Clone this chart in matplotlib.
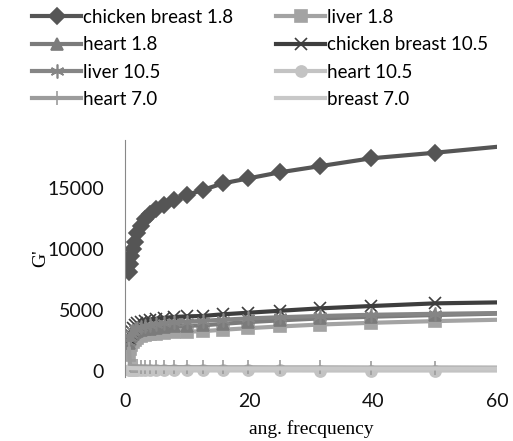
import matplotlib
matplotlib.use("Agg")
import matplotlib.pyplot as plt
from matplotlib.lines import Line2D

# angular frequency (rad/s)
freq = [0.628, 0.791, 0.996, 1.25, 1.58, 1.99, 2.50, 3.15, 3.97, 5.00, 6.28,
        7.91, 9.96, 12.5, 15.8, 19.9, 25.0, 31.5, 39.7, 50.0, 62.8]

cb_18 = [8100, 8800, 9400, 10000, 10600, 11300, 11900, 12450, 12900, 13300, 13650,
         14000, 14450, 14860, 15410, 15820, 16320, 16830, 17470, 17930, 18550]
liver_18 = [1300, 1800, 2100, 2350, 2550, 2700, 2820, 2920, 3000, 3060, 3120,
            3170, 3210, 3250, 3370, 3500, 3640, 3800, 3940, 4080, 4220]
heart_18 = [2300, 2600, 2850, 3000, 3150, 3250, 3330, 3400, 3470, 3540, 3600,
            3660, 3700, 3730, 3860, 4000, 4140, 4300, 4440, 4580, 4720]
cb_105 = [2600, 3000, 3300, 3550, 3750, 3900, 4020, 4120, 4200, 4280, 4350,
          4420, 4470, 4500, 4640, 4770, 4930, 5130, 5320, 5540, 5640]
liver_105 = [2400, 2800, 3050, 3250, 3400, 3520, 3620, 3700, 3780, 3850, 3920,
             3980, 4040, 4100, 4200, 4300, 4400, 4500, 4600, 4680, 4760]
heart_105 = [60, 50, 45, 40, 40, 35, 35, 30, 30, 30, 25,
             25, 25, 20, 20, 20, 20, 15, 15, 15, 15]
heart_70 = [1800, 450, 400, 380, 360, 350, 340, 330, 320, 310, 300,
            300, 290, 290, 280, 280, 270, 270, 260, 260, 250]
breast_70 = [230, 220, 215, 210, 210, 205, 205, 200, 200, 200, 200,
             195, 195, 195, 190, 190, 190, 190, 185, 185, 185]

series = [
    ("chicken breast 1.8", cb_18, "#555555", "D", 8),
    ("liver 1.8", liver_18, "#a3a3a3", "s", 8),
    ("heart 1.8", heart_18, "#7b7b7b", "^", 9),
    ("chicken breast 10.5", cb_105, "#3e3e3e", "x", 9),
    ("liver 10.5", liver_105, "#858585", (6, 2, 0), 10),
    ("heart 10.5", heart_105, "#c3c3c3", "o", 8),
    ("heart 7.0", heart_70, "#9c9c9c", "|", 10),
    ("breast 7.0", breast_70, "#c8c8c8", None, 0),
]

fig = plt.figure(figsize=(5.13, 4.41), dpi=100)
ax = fig.add_axes([0.2437, 0.1456, 0.7251, 0.5376])

handles = []
for name, vals, col, mk, ms in series:
    ax.plot(freq, vals, color=col, lw=3, marker=mk, markersize=ms,
            markeredgecolor=col, markerfacecolor=col, markeredgewidth=1.2)
    handles.append(Line2D([], [], color=col, lw=3, marker=mk, markersize=ms,
                          markeredgecolor=col, markerfacecolor=col, markeredgewidth=1.2,
                          label=name))

ax.set_xlim(0, 60)
ax.set_ylim(-500, 19000)
ax.set_xticks([0, 20, 40, 60])
ax.set_yticks([0, 5000, 10000, 15000])
ax.tick_params(length=0, labelsize=14, labelcolor="#111111")
ax.tick_params(axis="x", pad=12)
ax.tick_params(axis="y", pad=15)
for lab in ax.get_xticklabels() + ax.get_yticklabels():
    lab.set_family("Lato")

for s in ["top", "right", "bottom"]:
    ax.spines[s].set_visible(False)
ax.spines["left"].set_color("#888888")
ax.spines["left"].set_linewidth(0.8)

ax.set_xlabel("ang. frecquency", family="Liberation Serif", fontsize=14, labelpad=7)
ax.set_ylabel("G'", family="Liberation Serif", fontsize=14, labelpad=-1)

# matplotlib fills legend columns first, so reorder to get row-wise like the original
order = [0, 2, 4, 6, 1, 3, 5, 7]
fig.legend(handles=[handles[i] for i in order], loc="upper left",
           bbox_to_anchor=(0.03, 1.018), ncol=2, frameon=False,
           prop={"family": "Lato", "size": 13.5}, handlelength=2.6,
           handletextpad=0.1, columnspacing=2.3, labelspacing=0.55)

fig.savefig("out.png", dpi=100)
